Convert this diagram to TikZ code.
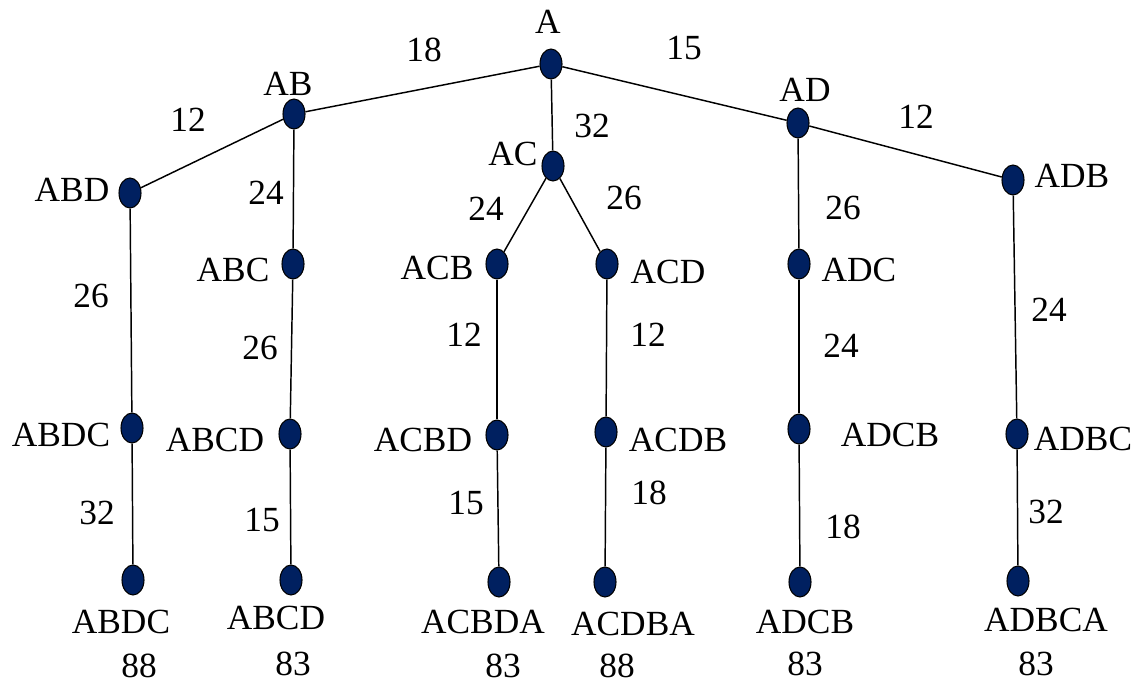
\documentclass[tikz,border=0pt]{standalone}
\usepackage{fontspec}
\setmainfont{Liberation Serif}
\usetikzlibrary{shapes.geometric}
\definecolor{navy}{RGB}{0,32,96}
\begin{document}
\begin{tikzpicture}[x=0.75pt,y=-0.75pt,
  st/.style={ellipse,draw=black,line width=0.8pt,fill=navy,
             minimum width=16.5pt,minimum height=22.5pt,inner sep=0pt},
  lbl/.style={inner sep=0pt,font=\fontsize{26.5}{30}\selectfont},
  edge/.style={line width=1.1pt}]
\useasboundingbox (0,0) rectangle (1138,686);

% states of the search tree
\node[st] (A)    at (551,64)  {};
\node[st] (AB)   at (294,114) {};
\node[st] (AC)   at (553,166) {};
\node[st] (AD)   at (798,123) {};
\node[st] (ABD)  at (130,193) {};
\node[st] (ADB)  at (1013,180) {};
\node[st] (ABC)  at (293,264) {};
\node[st] (ACB)  at (497,264) {};
\node[st] (ACD)  at (607,264) {};
\node[st] (ADC)  at (799,264) {};
\node[st] (ABDC) at (132,428) {};
\node[st] (ABCD) at (290,434) {};
\node[st] (ACBD) at (497,435) {};
\node[st] (ACDB) at (606,432) {};
\node[st] (ADCB) at (799,429) {};
\node[st] (ADBC) at (1017,434) {};
\node[st] (ABDCA) at (133,580) {};
\node[st] (ABCDA) at (291,580) {};
\node[st] (ACBDA) at (499,582) {};
\node[st] (ACDBA) at (605,582) {};
\node[st] (ADCBA) at (800,582) {};
\node[st] (ADBCA) at (1018,581) {};

% branches
\draw[edge] (A) -- (AB);
\draw[edge] (A) -- (AC);
\draw[edge] (A) -- (AD);
\draw[edge] (AB) -- (ABD);
\draw[edge] (AB) -- (ABC);
\draw[edge] (AC) -- (ACB);
\draw[edge] (AC) -- (ACD);
\draw[edge] (AD) -- (ADC);
\draw[edge] (AD) -- (ADB);
\draw[edge] (ABD) -- (ABDC);
\draw[edge] (ABC) -- (ABCD);
\draw[edge] (ACB) -- (ACBD);
\draw[edge] (ACD) -- (ACDB);
\draw[edge] (ADC) -- (ADCB);
\draw[edge] (ADB) -- (ADBC);
\draw[edge] (ABDC) -- (ABDCA);
\draw[edge] (ABCD) -- (ABCDA);
\draw[edge] (ACBD) -- (ACBDA);
\draw[edge] (ACDB) -- (ACDBA);
\draw[edge] (ADCB) -- (ADCBA);
\draw[edge] (ADBC) -- (ADBCA);

% state names
\node[lbl] (tA)    at (548,22)  {A};
\node[lbl] (tAB)   at (288,84)  {AB};
\node[lbl] (tAC)   at (513,154) {AC};
\node[lbl] (tAD)   at (805,90)  {AD};
\node[lbl] (tABD)  at (72,190)  {ABD};
\node[lbl] (tADB)  at (1072,176) {ADB};
\node[lbl] (tABC)  at (233,270) {ABC};
\node[lbl] (tACB)  at (437,268) {ACB};
\node[lbl] (tACD)  at (668,272) {ACD};
\node[lbl] (tADC)  at (859,270) {ADC};
\node[lbl] (tABDC) at (61,435)  {ABDC};
\node[lbl] (tABCD) at (215,440) {ABCD};
\node[lbl] (tACBD) at (423,440) {ACBD};
\node[lbl] (tACDB) at (678,440) {ACDB};
\node[lbl] (tADCB) at (890,435) {ADCB};
\node[lbl] (tADBC) at (1083,439) {ADBC};
\node[lbl] (tABDCA) at (121,622) {ABDC};
\node[lbl] (tABCDA) at (276,618) {ABCD};
\node[lbl] (tACBDA) at (483,622) {ACBDA};
\node[lbl] (tACDBA) at (633,624) {ACDBA};
\node[lbl] (tADCBA) at (805,622) {ADCB};
\node[lbl] (tADBCA) at (1046,620) {ADBCA};

% edge costs
\node[lbl] (c1)  at (424,50)  {18};
\node[lbl] (c2)  at (684,48)  {15};
\node[lbl] (c3)  at (188,120) {12};
\node[lbl] (c4)  at (592,126) {32};
\node[lbl] (c5)  at (916,117) {12};
\node[lbl] (c6)  at (266,193) {24};
\node[lbl] (c7)  at (486,209) {24};
\node[lbl] (c8)  at (624,198) {26};
\node[lbl] (c9)  at (843,208) {26};
\node[lbl] (c10) at (91,296)  {26};
\node[lbl] (c11) at (1049,310) {24};
\node[lbl] (c12) at (260,348) {26};
\node[lbl] (c13) at (464,335) {12};
\node[lbl] (c14) at (648,335) {12};
\node[lbl] (c15) at (841,346) {24};
\node[lbl] (c16) at (97,513)  {32};
\node[lbl] (c17) at (262,520) {15};
\node[lbl] (c18) at (466,503) {15};
\node[lbl] (c19) at (649,493) {18};
\node[lbl] (c20) at (843,527) {18};
\node[lbl] (c21) at (1046,512) {32};

% tour totals
\node[lbl] (s1) at (139,666) {88};
\node[lbl] (s2) at (293,664) {83};
\node[lbl] (s3) at (503,666) {83};
\node[lbl] (s4) at (617,666) {88};
\node[lbl] (s5) at (805,664) {83};
\node[lbl] (s6) at (1036,664) {83};
\end{tikzpicture}
\end{document}
